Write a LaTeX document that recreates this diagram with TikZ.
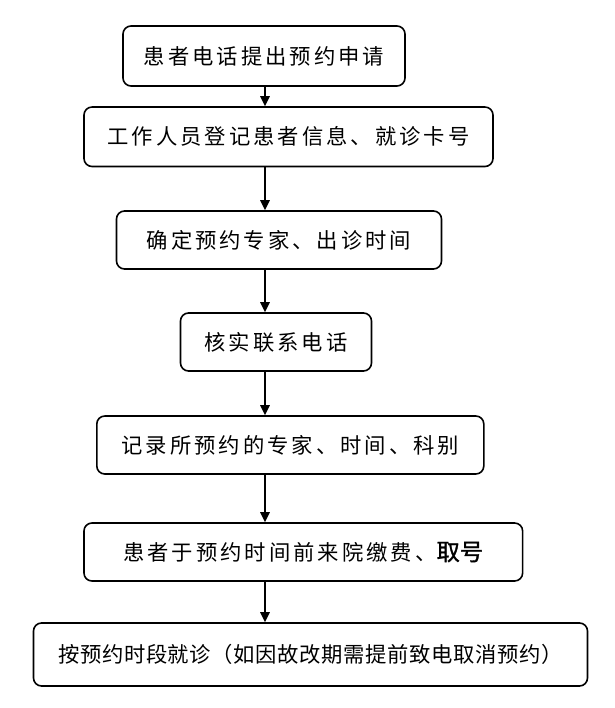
\documentclass[tikz,border=0pt]{standalone}
\usepackage{fontspec}
\newfontfamily\cjk[LetterSpace=14]{Noto Sans CJK SC}
\newfontfamily\cjktight[LetterSpace=3]{Noto Sans CJK SC}
\newfontfamily\cjkheavy[FakeBold=1.2]{Noto Sans CJK SC}
\usetikzlibrary{arrows.meta}
\tikzset{
	stepbox/.style={draw, rounded corners=6pt, line width=1.2pt, inner sep=0pt, minimum height=43.5pt, font=\cjk\fontsize{16pt}{18pt}\selectfont},
	arr/.style={-{Triangle[width=7pt, length=7.5pt]}, line width=1.5pt}
}
\begin{document}
\begin{tikzpicture}[x=0.75pt, y=-0.75pt]
	\useasboundingbox (0,0) rectangle (615,708);
	\coordinate (ax) at (265,0);
	\node[stepbox, minimum width=211.5pt, minimum height=45pt] (b1) at (264,56) {患者电话提出预约申请};
	\node[stepbox, minimum width=306.75pt, minimum height=44.6pt] (b2) at (288.5,136.75) {工作人员登记患者信息、就诊卡号};
	\node[stepbox, minimum width=243.75pt] (b3) at (279,240) {确定预约专家、出诊时间};
	\node[stepbox, minimum width=143.25pt] (b4) at (276,342) {核实联系电话};
	\node[stepbox, minimum width=290.25pt] (b5) at (290.3,445) {记录所预约的专家、时间、科别};
	\node[stepbox, minimum width=329pt] (b6) at (303.3,552) {患者于预约时间前来院缴费、{\cjkheavy\fontsize{17.5pt}{18pt}\selectfont 取号}};
	\node[stepbox, minimum width=415.5pt, minimum height=47.25pt, font=\cjktight\fontsize{16pt}{18pt}\selectfont] (b7) at (310.5,654.5) {按预约时段就诊（如因故改期需提前致电取消预约）};
	% arrows down the middle
	\draw[arr] (b1.south -| ax) -- (b2.north -| ax);
	\draw[arr] (b2.south -| ax) -- (b3.north -| ax);
	\draw[arr] (b3.south -| ax) -- (b4.north -| ax);
	\draw[arr] (b4.south -| ax) -- (b5.north -| ax);
	\draw[arr] (b5.south -| ax) -- (b6.north -| ax);
	\draw[arr] (b6.south -| ax) -- (b7.north -| ax);
\end{tikzpicture}
\end{document}
